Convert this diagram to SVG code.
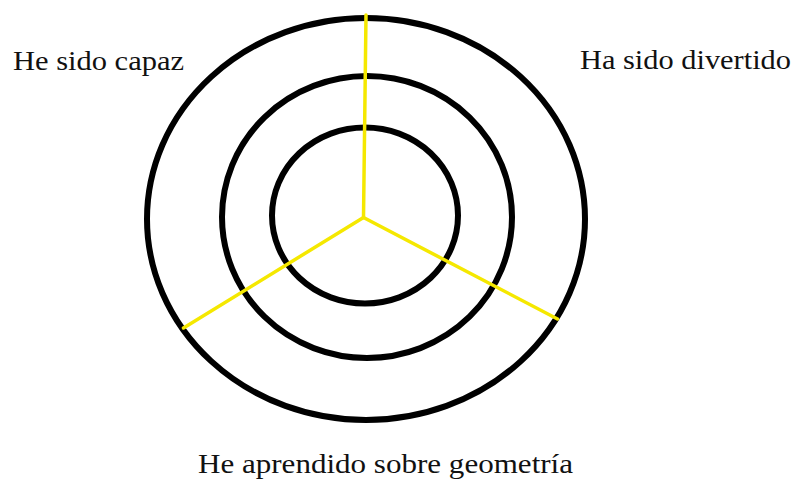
<svg xmlns="http://www.w3.org/2000/svg" width="798" height="480" viewBox="0 0 798 480">
<style>
.ring{fill:none;stroke:#000;stroke-width:6}
.spoke{fill:none;stroke:#f5e800;stroke-width:3.5;stroke-linecap:round}
.lbl{font-family:"Liberation Serif","Times New Roman",serif;font-size:28px;fill:#111}
</style>
<rect width="798" height="480" fill="#fff"/>
<g id="rings">
<ellipse id="outer" class="ring" cx="366" cy="219" rx="219" ry="201"/>
<ellipse id="middle" class="ring" cx="367" cy="217" rx="145" ry="141"/>
<ellipse id="inner" class="ring" cx="365" cy="215.5" rx="93" ry="88"/>
</g>
<g id="connectors">
<line class="spoke" x1="363.5" y1="217.5" x2="366" y2="15"/>
<line class="spoke" x1="363.5" y1="217.5" x2="183.5" y2="328"/>
<line class="spoke" x1="363.5" y1="217.5" x2="557.5" y2="319"/>
</g>
<g id="label-capaz"><text class="lbl" x="13" y="70" textLength="171" lengthAdjust="spacingAndGlyphs">He sido capaz</text></g>
<g id="label-divertido"><text class="lbl" x="580" y="69" textLength="211" lengthAdjust="spacingAndGlyphs">Ha sido divertido</text></g>
<g id="label-geometria"><text class="lbl" x="198" y="473" textLength="375" lengthAdjust="spacingAndGlyphs">He aprendido sobre geometría</text></g>
</svg>
